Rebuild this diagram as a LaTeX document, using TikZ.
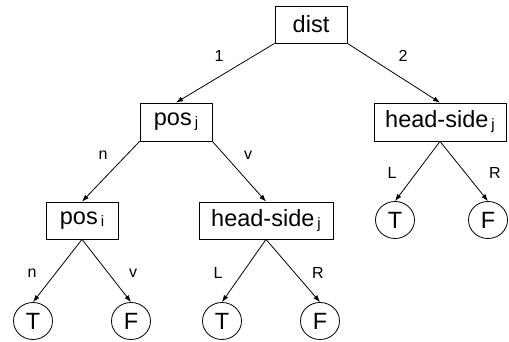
\documentclass[tikz,border=0pt]{standalone}
\usepackage{fontspec}
\setmainfont{Liberation Sans}
\usetikzlibrary{arrows.meta,shapes.geometric}
\newcommand{\subj}[1]{\hspace{3pt}\raisebox{-2pt}{\fontsize{15}{15}\selectfont #1}}
\tikzset{
  boxnode/.style={draw, rectangle, line width=0.8pt, inner sep=0pt, minimum height=37pt, font=\fontsize{23.5}{24}\selectfont},
  leaf/.style={draw, ellipse, line width=0.8pt, inner sep=0pt, minimum width=39pt, minimum height=37pt, font=\fontsize{23.5}{24}\selectfont},
  lbl/.style={inner sep=0pt, font=\fontsize{16}{16}\selectfont},
  conn/.style={line width=0.8pt, -{Latex[length=7pt,width=5pt]}}
}
\begin{document}
\begin{tikzpicture}[x=1pt,y=-1pt]
\useasboundingbox (0,0) rectangle (509,341);
% boxes
\node[boxnode, minimum width=72pt] (dist) at (311,24.5) {dist};
\node[boxnode, minimum width=72pt, minimum height=38pt] (posj) at (176,122) {pos\subj{j}};
\node[boxnode, minimum width=132pt, minimum height=38pt] (hsR) at (440,122) {head-side\subj{j}};
\node[boxnode, minimum width=72pt] (posi) at (82,220.5) {pos\subj{i}};
\node[boxnode, minimum width=134pt] (hsM) at (266,220.5) {head-side\subj{j}};
% leaves
\node[leaf] (T1) at (33,321) {T};
\node[leaf] (F1) at (131,321) {F};
\node[leaf] (T2) at (222,321) {T};
\node[leaf] (F2) at (320,321) {F};
\node[leaf] (T3) at (395,220) {T};
\node[leaf] (F3) at (488,220) {F};
% connectors
\draw[conn] (dist.south west) -- (posj.north);
\draw[conn] (dist.south east) -- (hsR.north);
\draw[conn] (posj.south west) -- (posi.north);
\draw[conn] (posj.south east) -- (hsM.north);
\draw[conn] (hsR.south) -- (T3.north);
\draw[conn] (hsR.south) -- (F3.north);
\draw[conn] (posi.south) -- (T1.north);
\draw[conn] (posi.south) -- (F1.north);
\draw[conn] (hsM.south) -- (T2.north);
\draw[conn] (hsM.south) -- (F2.north);
% labels
\node[lbl] (l1) at (219,56) {1};
\node[lbl] (l2) at (403,56) {2};
\node[lbl] (ln1) at (103,155) {n};
\node[lbl] (lv1) at (248,155) {v};
\node[lbl] (lL1) at (392,173) {L};
\node[lbl] (lR1) at (495,173) {R};
\node[lbl] (ln2) at (32,273) {n};
\node[lbl] (lv2) at (133,273) {v};
\node[lbl] (lL2) at (218,273) {L};
\node[lbl] (lR2) at (318,273) {R};
\end{tikzpicture}
\end{document}
